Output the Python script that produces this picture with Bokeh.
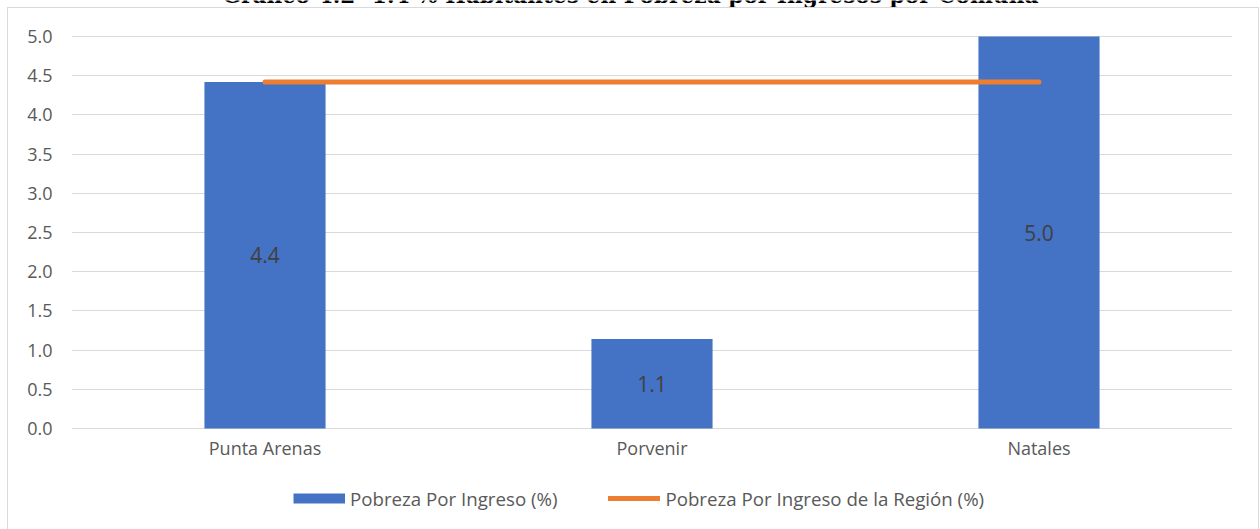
from bokeh.plotting import figure
from bokeh.models import (FactorRange, Range1d, FixedTicker, PrintfTickFormatter,
                          Legend, LegendItem, ColumnDataSource, InlineStyleSheet, Label)
from bokeh.core.properties import value
from bokeh.embed import file_html
from bokeh.resources import INLINE

# ---- data ----
comunas = ["Punta Arenas", "Porvenir", "Natales"]
pobreza = [4.42, 1.14, 5.0]
pobreza_labels = ["4.4", "1.1", "5.0"]
pobreza_region = [4.42, 4.42, 4.42]
y_ticks = [0.0, 0.5, 1.0, 1.5, 2.0, 2.5, 3.0, 3.5, 4.0, 4.5, 5.0]
serie_barras = "Pobreza Por Ingreso (%)"
serie_linea = "Pobreza Por Ingreso de la Región (%)"
titulo = "Gráfico 4.2- 1.4 % Habitantes en Pobreza por Ingresos por Comuna"

FONT = "Open Sans"
TXT = "#595959"
BLUE = "#4472C4"
ORANGE = "#ED7D31"
GRID = "#D9D9D9"

# ---- layout geometry (pixels) ----
W, H = 1260, 529
PLOT_TOP, PLOT_BOTTOM = 36, 428          # pixel rows of 5.0 and 0.0
PX_PER_UNIT = (PLOT_BOTTOM - PLOT_TOP) / 5.0
Y_START = -(H - PLOT_BOTTOM) / PX_PER_UNIT
Y_END = 5.0 + PLOT_TOP / PX_PER_UNIT

border_css = InlineStyleSheet(css="""
:host::after {
  content: "";
  position: absolute;
  left: 7px; top: 7px; right: 1px; bottom: 0px;
  border: 1px solid #D9D9D9;
  border-bottom: none;
  pointer-events: none;
}
""")

p = figure(width=W, height=H, output_backend="svg", toolbar_location=None,
           x_range=FactorRange(factors=comunas, range_padding=0),
           y_range=Range1d(Y_START, Y_END),
           min_border_left=71, min_border_right=28, min_border_top=0, min_border_bottom=0,
           stylesheets=[border_css])
p.outline_line_color = None
p.background_fill_color = "white"
p.border_fill_color = "white"

src = ColumnDataSource(dict(x=comunas, top=pobreza, mid=[v / 2 for v in pobreza],
                            lab=pobreza_labels, reg=pobreza_region))

bars = p.vbar(x="x", top="top", width=0.313, source=src, fill_color=BLUE, line_color=None)
line = p.line(x="x", y="reg", source=src, line_color=ORANGE, line_width=5, line_cap="round")
p.text(x="x", y="mid", text="lab", source=src, text_font=value(FONT), text_font_size="21px",
       text_color="#404040", text_align="center", text_baseline="middle")

# legend swatch proxy for the bar series: a one-point line (draws nothing in the plot)
swatch = p.line(x=comunas[:1], y=pobreza[:1], line_color=BLUE, line_width=10, line_cap="butt")

# axes: x axis pinned at y = 0 so the frame can hold the legend and caption
p.xaxis.fixed_location = 0
p.yaxis.ticker = FixedTicker(ticks=y_ticks)
p.yaxis.formatter = PrintfTickFormatter(format="%.1f")
for ax in (p.xaxis[0], p.yaxis[0]):
    ax.axis_line_color = None
    ax.major_tick_line_color = None
    ax.minor_tick_line_color = None
    ax.major_tick_out = 0
    ax.major_tick_in = 0
    ax.major_label_text_font = FONT
    ax.major_label_text_font_size = "18px"
    ax.major_label_text_color = TXT
p.yaxis.major_label_standoff = 19
p.xaxis.major_label_standoff = 7

p.xgrid.grid_line_color = None
p.ygrid.grid_line_color = GRID
p.ygrid.grid_line_width = 1

legend = Legend(items=[LegendItem(label=serie_barras, renderers=[swatch]),
                       LegendItem(label=serie_linea, renderers=[line])],
                location=(222, 18), orientation="horizontal",
                glyph_width=52, glyph_height=26, label_height=26, label_standoff=5,
                spacing=51, padding=0, margin=0, border_line_color=None,
                background_fill_alpha=0,
                label_text_font=FONT, label_text_font_size="18.7px", label_text_color=TXT,
                label_text_baseline="middle")
p.add_layout(legend, "center")

# caption above the chart box, clipped by the page top as in the reference
cap = Label(x=559, y=H + 5, x_units="screen", y_units="screen", text=titulo,
            text_font="DejaVu Serif", text_font_style="bold", text_font_size="21.7px",
            text_color="#000000", text_align="center", text_baseline="alphabetic")
p.add_layout(cap)

open("out.html", "w").write(file_html(p, INLINE))
